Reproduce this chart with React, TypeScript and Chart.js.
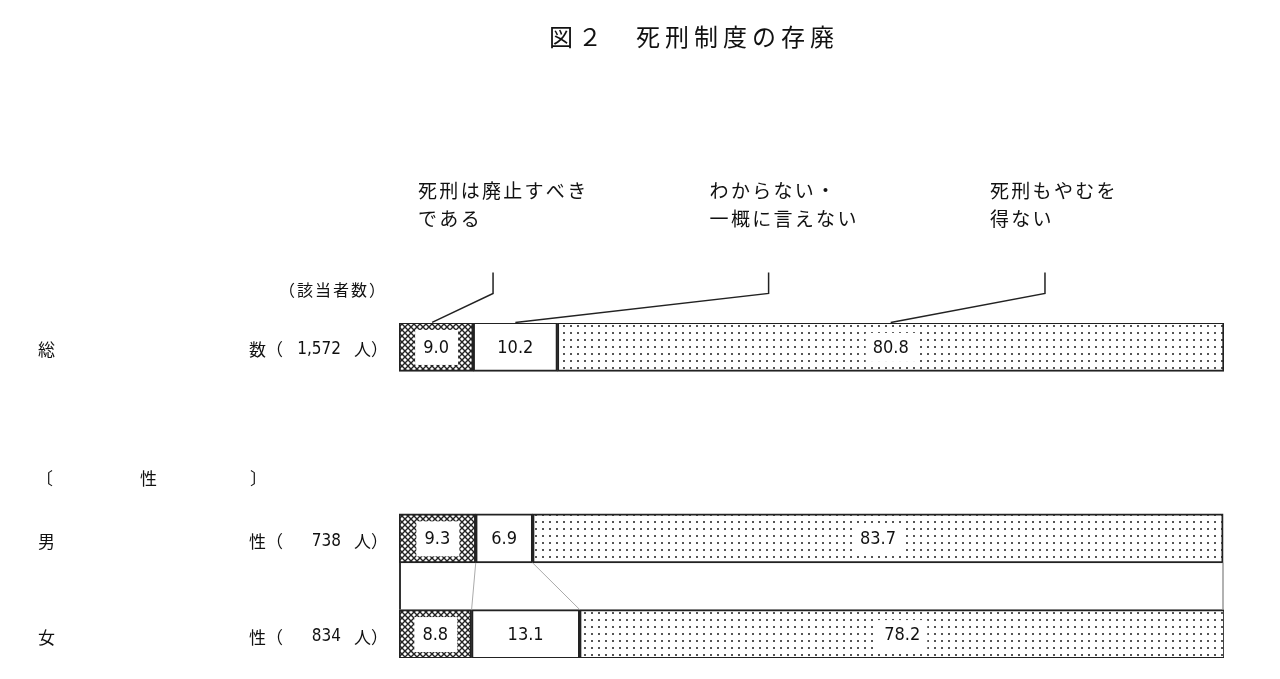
import React, { useEffect, useRef } from "react";
import { Chart, registerables } from "chart.js";

Chart.register(...registerables);

// ---- data ----
const title = "図２　死刑制度の存廃";
const groupFirst = ["総", "男", "女"];
const groupSecond = ["数", "性", "性"];
const counts = [1572, 738, 834];
const abolish = [9.0, 9.3, 8.8];
const unsure = [10.2, 6.9, 13.1];
const unavoidable = [80.8, 83.7, 78.2];
const seriesNames = ["死刑は廃止すべき\nである", "わからない・\n一概に言えない", "死刑もやむを\n得ない"];
const sectionHeader = ["〔", "性", "〕"];
const countHeader = "（該当者数）";

// layout helpers (slots in the category axis)
const SLOTS = 7;
const groupSlot = [0, 4, 6];
const headerSlot = 3;
const leaderTopX = [11.4, 44.8, 78.3]; // x (in %) of vertical leader segments
const textOffset = [-75, -59, -55];

const JP = "'Noto Sans CJK JP', 'Noto Sans', sans-serif";
const NUM = "'Liberation Sans Narrow', 'DejaVu Sans Condensed', 'Liberation Sans', sans-serif";

function toSlots(vals: number[]): (number | null)[] {
  const arr: (number | null)[] = new Array(SLOTS).fill(null);
  groupSlot.forEach((s, i) => (arr[s] = vals[i]));
  return arr;
}

function makeCross(): CanvasPattern | string {
  const c = document.createElement("canvas");
  c.width = 6;
  c.height = 6;
  const g = c.getContext("2d")!;
  g.fillStyle = "#fff";
  g.fillRect(0, 0, 6, 6);
  g.strokeStyle = "#222";
  g.lineWidth = 1.4;
  g.beginPath();
  g.moveTo(0, 0);
  g.lineTo(6, 6);
  g.moveTo(6, 0);
  g.lineTo(0, 6);
  g.stroke();
  const p = g.createPattern(c, "repeat");
  return p || "#555";
}

function makeDots(): CanvasPattern | string {
  const c = document.createElement("canvas");
  c.width = 7;
  c.height = 7;
  const g = c.getContext("2d")!;
  g.fillStyle = "#fff";
  g.fillRect(0, 0, 7, 7);
  g.fillStyle = "#555";
  g.fillRect(3, 3, 2, 2);
  const p = g.createPattern(c, "repeat");
  return p || "#eee";
}

const overlayPlugin = {
  id: "overlay",
  afterDatasetsDraw(chart: any) {
    const ctx: CanvasRenderingContext2D = chart.ctx;
    const { left, right, top } = chart.chartArea;
    const xs = chart.scales.x;
    const ys = chart.scales.y;
    const ink = "#111";
    ctx.save();

    // title
    ctx.fillStyle = ink;
    ctx.textBaseline = "middle";
    ctx.textAlign = "center";
    ctx.font = `24px ${JP}`;
    (ctx as any).letterSpacing = "5px";
    ctx.fillText(title, 694, 37);

    // header of count
    ctx.font = `16px ${JP}`;
    (ctx as any).letterSpacing = "2px";
    ctx.textAlign = "right";
    ctx.fillText(countHeader, left - 12, top - 33);

    // section header
    const hy = ys.getPixelForValue(headerSlot) - 12;
    ctx.textAlign = "left";
    ctx.font = `17px ${JP}`;
    (ctx as any).letterSpacing = "0px";
    ctx.fillText(sectionHeader[0], 36, hy);
    ctx.fillText(sectionHeader[1], 140, hy);
    ctx.fillText(sectionHeader[2], 250, hy);

    // group labels
    groupSlot.forEach((s, i) => {
      const el = chart.getDatasetMeta(0).data[s];
      const y = el.y + 3;
      ctx.font = `17px ${JP}`;
      ctx.textAlign = "left";
      ctx.fillText(groupFirst[i], 38, y);
      ctx.textAlign = "right";
      ctx.fillText(groupSecond[i] + "（", left - 116, y);
      ctx.fillText("人）", left - 11, y);
      ctx.font = `17px ${NUM}`;
      ctx.fillText(counts[i].toLocaleString("en-US"), left - 58, y);
    });

    // frame between male and female bars + connectors
    const m0 = chart.getDatasetMeta(0).data[groupSlot[1]];
    const f0 = chart.getDatasetMeta(0).data[groupSlot[2]];
    const mBottom = m0.y + m0.height / 2;
    const fTop = f0.y - f0.height / 2;
    ctx.strokeStyle = "#333";
    ctx.lineWidth = 2;
    ctx.beginPath();
    ctx.moveTo(left + 1, mBottom);
    ctx.lineTo(left + 1, fTop);
    ctx.stroke();
    ctx.strokeStyle = "#999";
    ctx.lineWidth = 1.5;
    ctx.beginPath();
    ctx.moveTo(right - 1, mBottom);
    ctx.lineTo(right - 1, fTop);
    ctx.stroke();
    ctx.strokeStyle = "#aaa";
    ctx.lineWidth = 1;
    ctx.beginPath();
    const mCum1 = abolish[1], fCum1 = abolish[2];
    const mCum2 = abolish[1] + unsure[1], fCum2 = abolish[2] + unsure[2];
    ctx.moveTo(xs.getPixelForValue(mCum1), mBottom);
    ctx.lineTo(xs.getPixelForValue(fCum1), fTop);
    ctx.moveTo(xs.getPixelForValue(mCum2), mBottom);
    ctx.lineTo(xs.getPixelForValue(fCum2), fTop);
    ctx.stroke();

    // value labels
    ctx.textAlign = "center";
    ctx.font = `18px ${NUM}`;
    [abolish, unsure, unavoidable].forEach((vals, d) => {
      const meta = chart.getDatasetMeta(d);
      groupSlot.forEach((s, i) => {
        const el = meta.data[s];
        const cx = (el.x + el.base) / 2;
        if (d === 0) {
          ctx.fillStyle = "#fff";
          ctx.fillRect(cx - 21, el.y - 17, 43, 35);
        } else if (d === 2) {
          ctx.fillStyle = "#fff";
          ctx.fillRect(cx - 25, el.y - 14, 50, 29);
        }
        ctx.fillStyle = ink;
        ctx.fillText(vals[i].toFixed(1), cx, el.y + 1);
      });
    });

    // annotations with leader lines (top bar)
    const tMeta = [0, 1, 2].map((d) => chart.getDatasetMeta(d).data[groupSlot[0]]);
    const barTop = tMeta[0].y - tMeta[0].height / 2;
    ctx.strokeStyle = "#222";
    ctx.lineWidth = 1.5;
    ctx.font = `19px ${JP}`;
    (ctx as any).letterSpacing = "2.3px";
    ctx.textAlign = "left";
    tMeta.forEach((el: any, d: number) => {
      const ax = d === 0 ? (el.x + el.base) / 2 - 4 : (el.x + el.base) / 2;
      const lx = xs.getPixelForValue(leaderTopX[d]);
      ctx.beginPath();
      ctx.moveTo(ax, barTop);
      ctx.lineTo(lx, barTop - 29);
      ctx.lineTo(lx, barTop - 50);
      ctx.stroke();
      const lines = seriesNames[d].split("\n");
      lines.forEach((ln, k) => {
        ctx.fillStyle = ink;
        ctx.fillText(ln, lx + textOffset[d], barTop - 132 + k * 28);
      });
    });

    ctx.restore();
  },
};

export default function App() {
  const ref = useRef<HTMLCanvasElement>(null);
  useEffect(() => {
    if (!ref.current) return;
    const cross = makeCross();
    const dots = makeDots();
    const labels = Array.from({ length: SLOTS }, (_, i) => {
      const gi = groupSlot.indexOf(i);
      return gi >= 0 ? groupFirst[gi] + groupSecond[gi] : "";
    });
    const common = {
      borderColor: "#222",
      borderWidth: 2,
      borderSkipped: false,
      barThickness: 49,
    };
    const chart = new Chart(ref.current, {
      type: "bar",
      data: {
        labels,
        datasets: [
          { label: seriesNames[0], data: toSlots(abolish), backgroundColor: cross as any, ...common },
          { label: seriesNames[1], data: toSlots(unsure), backgroundColor: "#fff", ...common },
          { label: seriesNames[2], data: toSlots(unavoidable), backgroundColor: dots as any, ...common },
        ] as any,
      },
      options: {
        indexAxis: "y",
        responsive: false,
        animation: false,
        layout: { padding: { left: 399, right: 56, top: 323, bottom: 21 } },
        plugins: { legend: { display: false }, tooltip: { enabled: false } },
        scales: {
          x: { stacked: true, min: 0, max: 100, display: false },
          y: { stacked: true, display: false },
        },
      } as any,
      plugins: [overlayPlugin],
    });
    return () => chart.destroy();
  }, []);
  return (
    <div style={{ position: "fixed", left: 0, top: 0, width: 1280, height: 679, background: "#fff" }}>
      <canvas ref={ref} width={1280} height={679} />
    </div>
  );
}
